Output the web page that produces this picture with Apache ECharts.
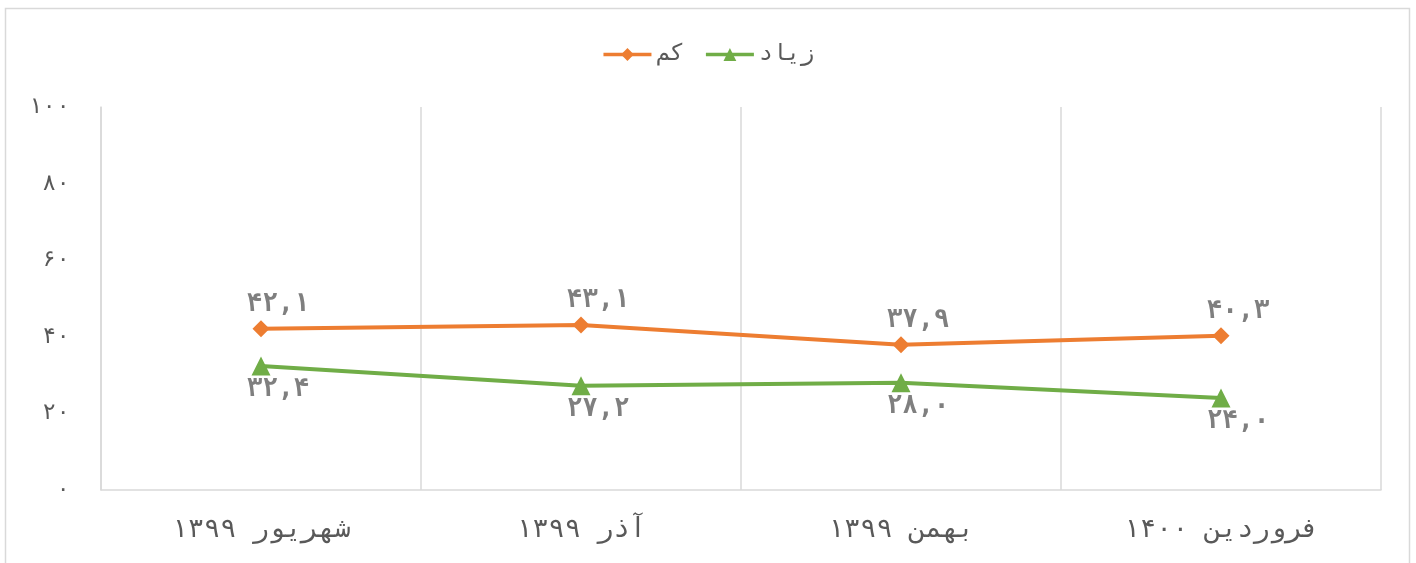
<!DOCTYPE html>
<html>
<head>
<meta charset="utf-8">
<script src="https://cdn.jsdelivr.net/npm/echarts@6/dist/echarts.min.js"></script>
<style>
html,body{margin:0;padding:0;background:#fff;}
#main{width:1416px;height:563px;}
</style>
</head>
<body>
<div id="main"></div>
<script>
const categories = ['شهریور ۱۳۹۹', 'آذر ۱۳۹۹', 'بهمن ۱۳۹۹', 'فروردین ۱۴۰۰'];
const seriesNames = ['کم', 'زیاد'];
const kamValues = [42.1, 43.1, 37.9, 40.3];
const ziadValues = [32.4, 27.2, 28.0, 24.0];
const yTicks = [0, 20, 40, 60, 80, 100];

const FONT = '"DejaVu Sans Mono", "DejaVu Sans", monospace';
const fa = s => String(s).replace(/[0-9]/g, d => '۰۱۲۳۴۵۶۷۸۹'[+d]);
const faNum = v => fa(v.toFixed(1)).replace('.', ',');

const chart = echarts.init(document.getElementById('main'));
chart.setOption({
  animation: false,
  backgroundColor: '#fff',
  graphic: [{
    type: 'rect',
    shape: {x: 5.5, y: 8.5, width: 1404, height: 570},
    style: {fill: 'none', stroke: '#D9D9D9', lineWidth: 1.5},
    silent: true
  }],
  legend: {
    top: 38,
    left: 'center',
    itemWidth: 48,
    itemHeight: 16,
    itemGap: 20,
    lineStyle: {width: 3.5},
    textStyle: {fontFamily: FONT, fontSize: 23, color: '#595959'},
    data: seriesNames
  },
  grid: {left: 101, right: 35, top: 107, bottom: 73, containLabel: false},
  xAxis: {
    type: 'category',
    data: categories,
    boundaryGap: true,
    axisLine: {show: true, lineStyle: {color: '#D9D9D9', width: 1.5}},
    axisTick: {show: false},
    splitLine: {show: true, lineStyle: {color: '#D9D9D9', width: 1.5}},
    axisLabel: {fontFamily: FONT, fontSize: 27, color: '#595959', margin: 26}
  },
  yAxis: {
    type: 'value',
    min: yTicks[0],
    max: yTicks[yTicks.length - 1],
    interval: 20,
    axisLine: {show: true, lineStyle: {color: '#D9D9D9', width: 1.5}},
    axisTick: {show: false},
    splitLine: {show: false},
    axisLabel: {fontFamily: FONT, fontSize: 23, color: '#595959', margin: 31, formatter: v => fa(v)}
  },
  series: [
    {
      name: seriesNames[0],
      type: 'line',
      data: kamValues,
      symbol: 'diamond',
      symbolSize: 17,
      itemStyle: {color: '#ED7D31'},
      lineStyle: {color: '#ED7D31', width: 4},
      label: {
        show: true, position: 'top', distance: 3, offset: [17, 0],
        fontFamily: FONT, fontSize: 26, fontWeight: 'bold', color: '#7F7F7F',
        formatter: p => faNum(p.value)
      }
    },
    {
      name: seriesNames[1],
      type: 'line',
      data: ziadValues,
      symbol: 'triangle',
      symbolSize: 19,
      itemStyle: {color: '#70AD47'},
      lineStyle: {color: '#70AD47', width: 4},
      label: {
        show: true, position: 'bottom', distance: 1, offset: [17, 0],
        fontFamily: FONT, fontSize: 26, fontWeight: 'bold', color: '#7F7F7F',
        formatter: p => faNum(p.value)
      }
    }
  ]
});
</script>
</body>
</html>
